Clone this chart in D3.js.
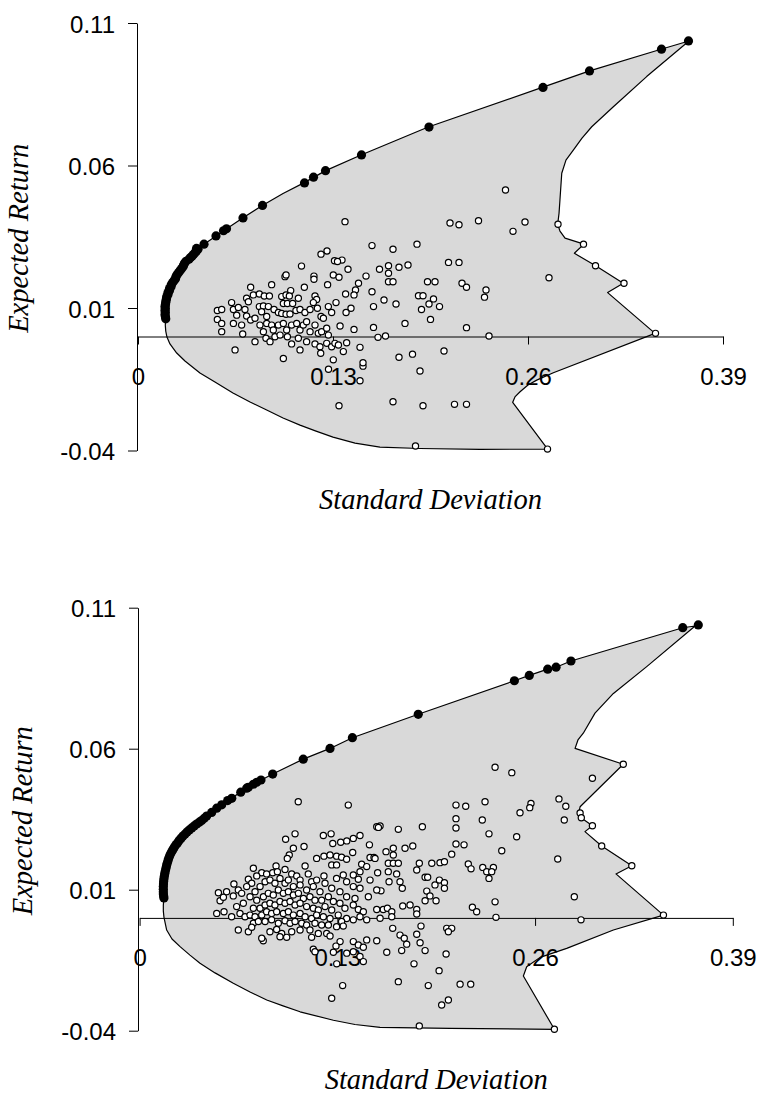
<!DOCTYPE html>
<html>
<head>
<meta charset="utf-8">
<script src="https://cdn.jsdelivr.net/npm/d3@7"></script>
<style>
  body { margin: 0; background: #fff; }
</style>
</head>
<body>
<svg width="761" height="1095"></svg>
<script>
const xTicks = [0, 0.13, 0.26, 0.39]
const yTicks = [0.11, 0.06, 0.01, -0.04]

// upper panel: feasible region outline, efficient frontier portfolios, single assets
const topRegion = [
  [0.0185,0.0061],[0.0182,0.0040],[0.0185,0.0019],[0.0193,-0.0002],[0.0213,-0.0026],[0.0258,-0.0058],[0.0313,-0.0086],
  [0.0413,-0.0128],[0.0513,-0.0160],[0.0633,-0.0198],[0.0747,-0.0230],[0.0858,-0.0258],[0.0967,-0.0286],[0.108,-0.0311],
  [0.1187,-0.0332],[0.130,-0.0353],[0.1447,-0.0374],[0.1613,-0.0388],[0.188,-0.0393],[0.228,-0.0396],[0.2731,-0.0395],
  [0.2498,-0.0231],[0.2513,-0.0212],[0.2547,-0.0194],[0.260,-0.0170],[0.2658,-0.0153],[0.2769,-0.0127],[0.3447,0.0011],
  [0.3131,0.0154],[0.3235,0.0187],[0.3051,0.0248],[0.2909,0.0292],[0.2973,0.0324],[0.2847,0.0345],[0.2813,0.0370],
  [0.2798,0.0394],[0.2807,0.0433],[0.2813,0.0479],[0.2825,0.0573],[0.2853,0.0619],[0.2902,0.0654],[0.296,0.0696],
  [0.3025,0.0736],[0.3169,0.0806],[0.3391,0.0912],[0.3673,0.1037],
  [0.3487,0.1008],[0.3011,0.0932],[0.2695,0.0874],[0.1935,0.0735],[0.1487,0.0637],[0.1251,0.0582],[0.1105,0.0539],
  [0.0967,0.0502],[0.0829,0.0460],[0.0698,0.0416],[0.0591,0.0378],[0.044,0.0324],[0.038,0.0294],[0.0313,0.0257],
  [0.026,0.0217],[0.0215,0.0175],[0.0189,0.0133],[0.0182,0.0091]
]
const topFrontier = [
  [0.367,0.1037],[0.349,0.1008],[0.301,0.0932],[0.270,0.0874],[0.194,0.0735],[0.149,0.0637],[0.125,0.0582],[0.117,0.0559],
  [0.111,0.0539],[0.083,0.0460],[0.070,0.0416],[0.059,0.0378],[0.057,0.0371],[0.052,0.0353],[0.044,0.0324],[0.039,0.0309],
  [0.040,0.0306],[0.038,0.0294],[0.036,0.0282],[0.034,0.0271],[0.031,0.0257],[0.030,0.0245],[0.028,0.0231],[0.026,0.0217],
  [0.025,0.0203],[0.023,0.0189],[0.022,0.0175],[0.021,0.0161],[0.020,0.0147],[0.019,0.0133],[0.0185,0.0119],[0.018,0.0105],
  [0.018,0.0091],[0.018,0.0076],[0.0185,0.0062],
  [0.039,0.0300],[0.037,0.0288],[0.035,0.0277],[0.032,0.0264],[0.0305,0.0251],[0.029,0.0238],[0.027,0.0224],[0.0253,0.0210],
  [0.024,0.0196],[0.0222,0.0182],[0.0210,0.0168],[0.020,0.0154],[0.0192,0.0140],[0.0187,0.0126],[0.0183,0.0112],
  [0.0182,0.0098],[0.0182,0.0084],[0.0183,0.0069]
]
const topAssets = [
  [0.126,0.0300],[0.122,0.0289],[0.156,0.0319],[0.131,0.0266],[0.136,0.0268],[0.133,0.0263],[0.140,0.0236],[0.109,0.0247],
  [0.152,0.0212],[0.147,0.0187],[0.145,0.0163],[0.144,0.0146],[0.156,0.0157],[0.157,0.0105],[0.142,0.0099],[0.144,0.0025],
  [0.157,0.0032],[0.160,-0.0003],[0.127,-0.0115],[0.150,-0.0104],[0.150,-0.0092],[0.148,-0.0155],[0.148,-0.0038],[0.134,-0.0243],
  [0.098,0.0210],[0.0987,0.0216],[0.1173,0.0212],[0.1173,0.0201],[0.1302,0.0216],[0.134,0.0208],[0.0891,0.0182],[0.0751,0.0173],
  [0.1109,0.0173],[0.1264,0.0182],[0.1384,0.0149],[0.0624,0.0119],[0.0724,0.0134],[0.0736,0.0122],[0.0769,0.0146],[0.0809,0.0149],
  [0.0842,0.0142],[0.0876,0.0142],[0.0958,0.0140],[0.0987,0.0146],[0.1018,0.0161],[0.1009,0.0142],[0.1069,0.0134],[0.118,0.0142],
  [0.1191,0.0130],[0.1169,0.0119],[0.1269,0.0105],[0.132,0.0119],[0.0529,0.0091],[0.0558,0.0095],[0.0529,0.0060],[0.0558,0.0046],
  [0.0558,0.0017],[0.0636,0.0095],[0.0658,0.0075],[0.0669,0.0102],[0.0713,0.0095],[0.0724,0.0072],[0.0751,0.0058],[0.078,0.0064],
  [0.0809,0.0105],[0.0836,0.0107],[0.0869,0.0105],[0.0824,0.0087],[0.0858,0.0070],[0.0907,0.0095],[0.0936,0.0084],[0.0969,0.0116],
  [0.0996,0.0116],[0.1031,0.0116],[0.0958,0.0081],[0.0987,0.0078],[0.1013,0.0079],[0.1053,0.0091],[0.108,0.0095],[0.1113,0.0084],
  [0.1147,0.0095],[0.1196,0.0099],[0.122,0.0070],[0.1236,0.0064],[0.1291,0.0084],[0.1347,0.0037],[0.1387,0.0084],[0.1391,-0.0022],
  [0.0636,0.0046],[0.0691,0.0040],[0.0698,0.0009],[0.078,-0.0018],[0.0813,0.0040],[0.0836,0.0017],[0.0858,0.0046],[0.0891,0.0040],
  [0.0902,0.0023],[0.0936,0.0040],[0.0969,0.0046],[0.0991,0.0023],[0.1024,0.0040],[0.1058,0.0046],[0.108,0.0023],[0.1102,0.0040],
  [0.1124,0.0052],[0.1147,0.0017],[0.118,0.0040],[0.1202,0.0011],[0.1224,0.0017],[0.1258,0.0029],[0.1269,0.0005],[0.0853,-0.0006],
  [0.088,-0.0018],[0.0913,-0.0001],[0.0947,0.0005],[0.0996,-0.0001],[0.1024,-0.0026],[0.1069,-0.0006],[0.108,-0.0047],[0.1124,-0.0018],
  [0.118,-0.0026],[0.1213,-0.0036],[0.1218,-0.0059],[0.1258,-0.0024],[0.1291,-0.0036],[0.1313,-0.0024],[0.1336,-0.0030],[0.1369,-0.0053],
  [0.0647,-0.0047],[0.0969,-0.0077],[0.1302,-0.0082],
  [0.138,0.0403],[0.245,0.0514],[0.208,0.0398],[0.214,0.0392],[0.227,0.0406],[0.250,0.0369],[0.258,0.0402],[0.280,0.0394],
  [0.297,0.0324],[0.186,0.0324],[0.170,0.0306],[0.161,0.0236],[0.167,0.0248],[0.167,0.0222],[0.174,0.0243],[0.180,0.0251],
  [0.167,0.0192],[0.170,0.0192],[0.207,0.0260],[0.214,0.0260],[0.193,0.0192],[0.198,0.0192],[0.216,0.0187],[0.219,0.0173],
  [0.232,0.0163],[0.231,0.0138],[0.274,0.0206],[0.305,0.0248],[0.324,0.0187],[0.345,0.0011],[0.164,0.0128],[0.172,0.0114],
  [0.187,0.0143],[0.190,0.0143],[0.197,0.0132],[0.194,0.0114],[0.201,0.0105],[0.189,0.0095],[0.195,0.0060],[0.178,0.0046],
  [0.219,0.0031],[0.165,0.0002],[0.234,0.0002],[0.174,-0.0073],[0.183,-0.0062],[0.204,-0.0051],[0.188,-0.0121],[0.170,-0.0229],
  [0.190,-0.0243],[0.211,-0.0238],[0.219,-0.0238],[0.185,-0.0384],[0.273,-0.0395]
]

// lower panel
const bottomRegion = [
  [0.016,0.0071],[0.0156,0.0046],[0.0156,0.0024],[0.016,0.0003],[0.0178,-0.0043],[0.0213,-0.0075],[0.0266,-0.0102],
  [0.0331,-0.0132],[0.0397,-0.0161],[0.0496,-0.0195],[0.0616,-0.0232],[0.0726,-0.0263],[0.0836,-0.0291],[0.0943,-0.0312],
  [0.1055,-0.0333],[0.1274,-0.0363],[0.1416,-0.0378],[0.1581,-0.0388],[0.2041,-0.0392],[0.2727,-0.0395],
  [0.2523,-0.0206],[0.2545,-0.0173],[0.2633,-0.0140],[0.2808,-0.0108],[0.3115,-0.0043],[0.3444,0.0010],[0.3132,0.0156],
  [0.3236,0.0185],[0.3038,0.0255],[0.2928,0.0306],[0.2977,0.0327],[0.2907,0.0353],[0.2889,0.0377],[0.2896,0.0394],
  [0.318,0.0545],[0.2863,0.0601],[0.2882,0.0631],[0.2917,0.0655],[0.2994,0.0726],[0.3115,0.0796],[0.3334,0.0891],[0.3652,0.1035],
  [0.3571,0.1029],[0.2836,0.0911],[0.2738,0.0889],[0.2683,0.0882],[0.2562,0.0860],[0.2464,0.0841],[0.1832,0.0722],
  [0.1399,0.0639],[0.1252,0.0601],[0.1076,0.0563],[0.0875,0.0510],[0.0748,0.0474],[0.0665,0.0446],[0.0579,0.0416],
  [0.0507,0.0389],[0.0441,0.0361],[0.0375,0.0333],[0.0312,0.0305],[0.0259,0.0274],[0.022,0.0243],[0.019,0.0209],
  [0.0172,0.0173],[0.016,0.0138],[0.0156,0.0102]
]
const bottomFrontier = [
  [0.3673,0.1039],[0.3571,0.1029],[0.2836,0.0911],[0.2738,0.0889],[0.2683,0.0882],[0.2562,0.0860],[0.2464,0.0841],
  [0.1832,0.0722],[0.1399,0.0639],[0.1252,0.0601],[0.1076,0.0563],[0.0875,0.0510],[0.0798,0.0489],[0.0770,0.0481],
  [0.0748,0.0474],[0.0715,0.0463],[0.0704,0.0460],[0.0665,0.0446],[0.0606,0.0424],[0.0579,0.0416],[0.0540,0.0401],
  [0.0507,0.0389],[0.0474,0.0374],[0.0441,0.0361],[0.0408,0.0345],[0.0375,0.0333],[0.0343,0.0319],[0.0312,0.0305],
  [0.0285,0.0290],[0.0259,0.0274],[0.0239,0.0259],[0.0220,0.0243],[0.0203,0.0227],[0.0190,0.0209],[0.0180,0.0191],
  [0.0172,0.0173],[0.0165,0.0156],[0.0160,0.0138],[0.0157,0.0120],[0.0156,0.0102],[0.0156,0.0085],[0.0160,0.0071],
  [0.0425,0.0353],[0.0392,0.0339],[0.0359,0.0326],[0.0327,0.0312],[0.0298,0.0297],[0.0272,0.0282],[0.0249,0.0266],
  [0.0229,0.0251],[0.0211,0.0235],[0.0196,0.0218],[0.0185,0.0200],[0.0176,0.0182],[0.0168,0.0164],[0.0162,0.0147],
  [0.0158,0.0129],[0.0156,0.0111],[0.0156,0.0093],[0.0158,0.0078]
]
const bottomAssets = [
  [0.318,0.0545],[0.2977,0.0495],[0.2337,0.0534],[0.2447,0.0515],[0.208,0.0400],[0.2144,0.0396],[0.2271,0.0412],[0.2501,0.0373],
  [0.2573,0.0406],[0.2565,0.0391],[0.2757,0.0422],[0.2802,0.0396],[0.2896,0.0372],[0.2904,0.0355],[0.2792,0.0347],[0.2977,0.0327],
  [0.208,0.0352],[0.2253,0.0347],[0.208,0.0319],[0.1859,0.0323],[0.1701,0.0314],[0.1581,0.0326],
  [0.2297,0.0298],[0.2479,0.0288],[0.3038,0.0255],[0.208,0.0262],[0.2133,0.0259],[0.2381,0.0238],[0.2052,0.0226],[0.162,0.0235],
  [0.1668,0.0247],[0.1668,0.0223],[0.1745,0.0247],[0.1796,0.0255],[0.2749,0.0209],[0.3236,0.0185],[0.1635,0.0194],[0.1668,0.0194],
  [0.1701,0.0194],[0.1839,0.0194],[0.1921,0.0194],[0.1975,0.0196],[0.2004,0.0199],[0.2161,0.0191],[0.2179,0.0174],[0.2256,0.0179],
  [0.2282,0.0164],[0.2326,0.0179],[0.2315,0.0164],[0.2297,0.0140],[0.1822,0.0170],[0.1635,0.0164],[0.169,0.0156],[0.1712,0.0128],
  [0.1727,0.0105],[0.164,0.0128],[0.1587,0.0096],[0.1877,0.0144],[0.1894,0.0144],[0.1971,0.0134],[0.2004,0.0125],[0.2004,0.0105],
  [0.1942,0.0117],[0.1888,0.0095],[0.1909,0.0078],[0.1949,0.0061],[0.1877,0.0061],[0.2858,0.0075],[0.2337,0.0057],[0.2188,0.0038],
  [0.2216,0.0022],[0.2343,0.0002],[0.2902,-0.0007],[0.3444,0.0010],[0.173,0.0042],[0.1778,0.0046],[0.1822,0.0030],[0.1822,0.0014],
  [0.1602,0.0030],[0.1629,0.0034],[0.1658,0.0022],[0.1658,0.0004],[0.1581,-0.0001],[0.1664,-0.0037],[0.1712,-0.0061],[0.174,-0.0072],
  [0.1756,-0.0093],[0.185,-0.0029],[0.1822,-0.0058],[0.1844,-0.0088],[0.1877,-0.0116],[0.2019,-0.0037],[0.2052,-0.0037],[0.203,-0.0049],
  [0.1625,-0.0122],[0.1723,-0.0116],[0.2015,-0.0128],[0.1804,-0.0163],[0.1969,-0.0187],[0.1701,-0.0226],[0.1898,-0.0240],[0.2107,-0.0235],
  [0.2177,-0.0235],[0.203,-0.0291],[0.1986,-0.0309],[0.1839,-0.0383],[0.2727,-0.0395],[0.1043,0.0412],[0.1372,0.0400],[0.1559,0.0323],
  [0.096,0.0279],[0.1022,0.0298],[0.1208,0.0292],[0.1259,0.0298],[0.127,0.0264],[0.1322,0.0268],[0.1362,0.0273],[0.1405,0.0282],
  [0.1449,0.0292],[0.1511,0.0259],[0.1081,0.0253],[0.1011,0.0247],[0.1401,0.0232],[0.146,0.0190],[0.1515,0.0214],[0.1541,0.0214],
  [0.1405,0.0152],[0.1449,0.0164],[0.1438,0.0137],[0.1565,0.0160],[0.1405,0.0111],[0.1449,0.0105],[0.1405,0.0046],[0.1438,0.0030],
  [0.1471,0.0022],[0.1493,-0.0007],[0.1449,0.0004],[0.1405,-0.0007],[0.1405,-0.0084],[0.1438,-0.0096],[0.1471,-0.0104],[0.1493,-0.0078],
  [0.1559,-0.0081],[0.0813,-0.0081],[0.1318,-0.0084],[0.1291,-0.0100],[0.1274,-0.0122],[0.1296,-0.0163],[0.1362,-0.0125],[0.1405,-0.0120],
  [0.1449,-0.0137],[0.1471,-0.0155],[0.1142,-0.0111],[0.1153,-0.0120],[0.1335,-0.0240],[0.1263,-0.0285],[0.1559,0.0030],[0.1559,0.0099],
  [0.1548,0.0211],[0.157,0.0321],[0.1493,0.0182],[0.1504,0.0075],[0.1515,0.0134],[0.1416,0.0069],
  [0.0984,0.0223],[0.0971,0.0211],[0.1164,0.0211],[0.1212,0.0219],[0.1252,0.0223],[0.1295,0.0219],[0.1328,0.0215],[0.1361,0.0208],
  [0.1263,0.0188],[0.1295,0.0188],[0.1088,0.0184],[0.1109,0.0156],[0.0748,0.0176],[0.0897,0.0184],[0.0803,0.0160],[0.0835,0.0156],
  [0.0875,0.0160],[0.0906,0.0164],[0.0956,0.0172],[0.100,0.0156],[0.1033,0.0149],[0.1055,0.0134],[0.1131,0.0128],[0.1164,0.0134],
  [0.1212,0.0149],[0.1295,0.0140],[0.1339,0.0152],[0.1361,0.0128],[0.062,0.0120],[0.0715,0.0137],[0.0737,0.0123],[0.077,0.0149],
  [0.0704,0.0111],[0.0649,0.0099],[0.0671,0.0087],[0.0616,0.0078],[0.0572,0.0093],[0.0518,0.0089],[0.0529,0.0061],[0.0551,0.0073],
  [0.0507,0.0016],[0.0555,0.0022],[0.0605,0.0004],[0.0638,0.0040],[0.0682,0.0052],[0.0726,0.0075],[0.0759,0.0093],[0.0792,0.0111],
  [0.0825,0.0128],[0.0857,0.0134],[0.089,0.0123],[0.0923,0.0140],[0.0956,0.0123],[0.0978,0.0134],[0.1011,0.0111],[0.1055,0.0117],
  [0.1098,0.0099],[0.1142,0.0111],[0.1186,0.0093],[0.1219,0.0123],[0.1263,0.0105],[0.1317,0.0093],[0.1361,0.0075],[0.077,0.0063],
  [0.0814,0.0075],[0.0846,0.0087],[0.0879,0.0081],[0.0912,0.0099],[0.0945,0.0087],[0.0978,0.0093],[0.1011,0.0081],[0.1044,0.0087],
  [0.1077,0.0069],[0.112,0.0075],[0.1153,0.0063],[0.1197,0.0063],[0.1241,0.0075],[0.1274,0.0058],[0.1317,0.0052],[0.135,0.0034],
  [0.0748,0.0034],[0.0792,0.0034],[0.0825,0.0046],[0.0857,0.0052],[0.089,0.0046],[0.0923,0.0058],[0.0956,0.0052],[0.0989,0.0058],
  [0.1022,0.0046],[0.1055,0.0052],[0.1098,0.0040],[0.1142,0.0034],[0.1175,0.0028],[0.1219,0.0040],[0.1263,0.0028],[0.1306,0.0010],
  [0.1361,-0.0002],[0.066,0.0016],[0.0693,0.0004],[0.0726,0.0010],[0.0759,0.0004],[0.0803,0.0010],[0.0835,0.0022],[0.0868,0.0016],
  [0.0901,0.0022],[0.0945,0.0016],[0.0978,0.0022],[0.1011,0.0010],[0.1055,0.0016],[0.1088,0.0004],[0.1131,-0.0002],[0.1164,0.0010],
  [0.1208,0.0004],[0.1252,-0.0002],[0.0748,-0.0019],[0.0781,-0.0013],[0.0825,-0.0013],[0.0868,-0.0007],[0.0912,-0.0019],[0.0956,-0.0010],
  [0.0989,-0.0019],[0.1022,-0.0013],[0.1066,-0.0019],[0.1098,-0.0025],[0.1153,-0.0019],[0.1197,-0.0025],[0.1241,-0.0025],[0.1295,-0.0031],
  [0.1328,-0.0013],[0.0649,-0.0043],[0.0715,-0.0049],[0.0737,-0.0033],[0.0857,-0.0049],[0.0901,-0.0041],[0.0934,-0.0055],[0.100,-0.0049],
  [0.1055,-0.0043],[0.112,-0.0043],[0.1175,-0.0055],[0.123,-0.0055],[0.1339,-0.0029],[0.0803,-0.0072],[0.0923,-0.0067],[0.0967,-0.0069],
  [0.1131,-0.0069],[0.1252,-0.0064]
]

const panels = [
  {region: topRegion, frontier: topFrontier, assets: topAssets, xRange: [138, 723], yRange: [450.5, 23], axisX: 137, titleX: 28},
  {region: bottomRegion, frontier: bottomFrontier, assets: bottomAssets, xRange: [139.6, 732.8], yRange: [1030.7, 607.7], axisX: 138, titleX: 32}
]

const svg = d3.select("svg")
const tickFont = "'Liberation Sans', Arial, Helvetica, sans-serif"
const titleFont = "'Liberation Serif', 'Times New Roman', Times, serif"

panels.forEach(p => {
  const x = d3.scaleLinear().domain([0, 0.39]).range(p.xRange)
  const y = d3.scaleLinear().domain([-0.04, 0.11]).range(p.yRange)
  const line = d3.line().x(d => x(d[0])).y(d => y(d[1]))
  const g = svg.append("g")

  // shaded feasible set
  g.append("path")
    .attr("d", line(p.region) + "Z")
    .attr("fill", "#d9d9d9")
    .attr("stroke", "none")

  const yAxis = g.append("g")
    .attr("transform", "translate(" + p.axisX + ",0)")
    .call(d3.axisLeft(y).tickValues(yTicks).tickSize(9).tickSizeOuter(0).tickPadding(13).tickFormat(d => String(d)))
  yAxis.selectAll("text").attr("dy", "0.38em")

  const xAxis = g.append("g")
    .attr("transform", "translate(0," + y(0) + ")")
    .call(d3.axisBottom(x).tickValues(xTicks).tickSize(8).tickSizeOuter(0).tickPadding(23).tickFormat(d => String(d)))

  ;[yAxis, xAxis].forEach(a => {
    a.attr("font-family", tickFont).attr("font-size", 24)
    a.selectAll("text").attr("fill", "#000")
    a.selectAll("path, line").attr("stroke", "#000").attr("stroke-width", 1)
  })

  g.append("path")
    .attr("d", line(p.region) + "Z")
    .attr("fill", "none")
    .attr("stroke", "#000")
    .attr("stroke-width", 1.2)
    .attr("stroke-linejoin", "round")

  g.append("g").selectAll("circle")
    .data(p.assets)
    .enter().append("circle")
    .attr("cx", d => x(d[0]))
    .attr("cy", d => y(d[1]))
    .attr("r", 3.1)
    .attr("fill", "#fff")
    .attr("stroke", "#000")
    .attr("stroke-width", 1.2)

  g.append("g").selectAll("circle")
    .data(p.frontier)
    .enter().append("circle")
    .attr("cx", d => x(d[0]))
    .attr("cy", d => y(d[1]))
    .attr("r", 4.6)
    .attr("fill", "#000")

  g.append("text")
    .attr("x", (p.xRange[0] + p.xRange[1]) / 2)
    .attr("y", y(-0.04) + 58)
    .attr("text-anchor", "middle")
    .style("font-family", titleFont)
    .style("font-style", "italic")
    .style("font-size", "28.5px")
    .text("Standard Deviation")

  g.append("text")
    .attr("transform", "translate(" + p.titleX + "," + ((p.yRange[0] + p.yRange[1]) / 2 + 1.5) + ") rotate(-90)")
    .attr("text-anchor", "middle")
    .style("font-family", titleFont)
    .style("font-style", "italic")
    .style("font-size", "28.5px")
    .text("Expected Return")
})
</script>
</body>
</html>
